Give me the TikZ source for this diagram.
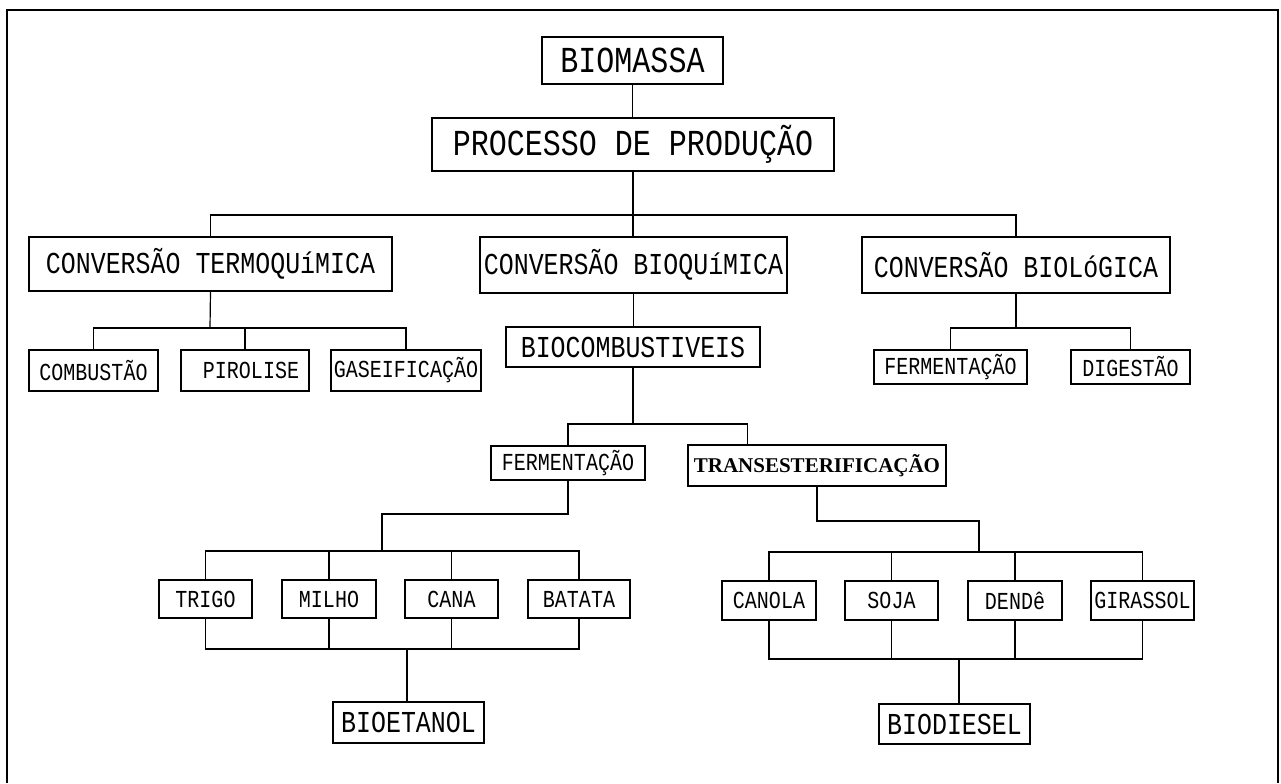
\documentclass[tikz,border=0pt]{standalone}
\usepackage{fontspec}
\setmonofont[FakeStretch=0.82]{Liberation Mono}
\newfontfamily\negrito{Liberation Serif}
\usetikzlibrary{calc}

\tikzset{
	caixa/.style 2 args={draw, inner sep=1pt, minimum width=#1*0.5pt, minimum height=#2*0.5pt,
		font=\ttfamily\fontsize{12.2}{14}\selectfont},
	grande/.style={font=\ttfamily\fontsize{18.3}{21}\selectfont},
	media/.style={font=\ttfamily\fontsize{15.2}{18}\selectfont},
	negrita/.style={font=\negrito\bfseries\fontsize{10.5}{12}\selectfont}
}

\begin{document}
\begin{tikzpicture}[x=0.5pt, y=-0.5pt, line width=0.6pt]
		\useasboundingbox (0,0) rectangle (1281,783);
		\draw[line width=1pt] (7,783) -- (7,10) -- (1278,10) -- (1278,783);
		\node[caixa={181}{47}, grande] (biomassa) at (632.5,60.5) {BIOMASSA};
		\node[caixa={402}{53}, grande] (processo) at (633,144.5) {PROCESSO DE PRODUÇÃO};
		\node[caixa={363}{54}, media] (termo) at (210.5,264) {CONVERSÃO TERMOQUíMICA};
		\node[caixa={307}{56}, media] (bioquim) at (633.5,265) {CONVERSÃO BIOQUíMICA};
		\node[caixa={308}{56}, media] (biolog) at (1016,265) {CONVERSÃO BIOLóGICA};
		\node[caixa={129}{41}] (combust) at (93.5,370.5) {COMBUSTÃO};
		\node[caixa={128}{41}] (pirolise) at (245,370.5) {\ PIROLISE};
		\node[caixa={150}{41}] (gaseif) at (406,370.5) {GASEIFICAÇÃO};
		\node[caixa={254}{40}, media] (biocomb) at (633,347) {BIOCOMBUSTIVEIS};
		\node[caixa={153}{34}] (fermbio) at (950.5,367) {FERMENTAÇÃO};
		\node[caixa={119}{34}] (digest) at (1130.5,367) {DIGESTÃO};
		\node[caixa={154}{34}] (fermen) at (568,463) {FERMENTAÇÃO};
		\node[caixa={258}{41}, negrita] (trans) at (817,465.5) {TRANSESTERIFICAÇÃO};
		\node[caixa={93}{38}] (trigo) at (205.5,599) {TRIGO};
		\node[caixa={94}{38}] (milho) at (329,599) {MILHO};
		\node[caixa={93}{38}] (cana) at (451.5,599) {CANA};
		\node[caixa={102}{38}] (batata) at (579,599) {BATATA};
		\node[caixa={151}{41}, media] (bioetanol) at (408.5,722.5) {BIOETANOL};
		\node[caixa={94}{39}] (canola) at (769,600.5) {CANOLA};
		\node[caixa={93}{39}] (soja) at (891.5,600.5) {SOJA};
		\node[caixa={94}{39}] (dende) at (1015,600.5) {DENDê};
		\node[caixa={103}{39}] (girassol) at (1142.5,600.5) {GIRASSOL};
		\node[caixa={151}{40}, media] (biodiesel) at (954.5,724) {BIODIESEL};
		\coordinate (r1) at (633,215);
		\coordinate (r2) at (210,328);
		\coordinate (r3) at (1016,328);
		\coordinate (r4) at (633,424);
		\coordinate (r5) at (382,514);
		\coordinate (r6) at (382,551);
		\coordinate (r7) at (407,649);
		\coordinate (r8) at (979,521);
		\coordinate (r9) at (979,552);
		\coordinate (r10) at (959,659);
		\draw (biomassa.south) -- (biomassa.south |- processo.north);
		\draw (processo.south) -- (processo.south |- bioquim.north);
		\draw (termo.north) |- (r1) -| (biolog.north);
		\draw (termo.south) -- (r2);
		\draw (combust.north) |- (r2) -| (gaseif.north);
		\draw (pirolise.north) -- (pirolise.north |- r2);
		\draw (biolog.south) -- (r3);
		\draw (fermbio.north) |- (r3) -| (digest.north);
		\draw (bioquim.south) -- (bioquim.south |- biocomb.north);
		\draw (biocomb.south) -- (r4);
		\draw (fermen.north) |- (r4) -| ($(trans.north west)+(60,0)$);
		\draw (fermen.south) |- (r5) -- (r6);
		\draw (trigo.north) |- (r6) -| (batata.north);
		\draw (trigo.south) |- (r7) -| (batata.south);
		\foreach \n in {milho,cana} {
			\draw (\n.north) -- (\n.north |- r6);
			\draw (\n.south) -- (\n.south |- r7);
		}
		\draw (r7) -- (r7 |- bioetanol.north);
		\draw (trans.south) |- (r8) -- (r9);
		\draw (canola.north) |- (r9) -| (girassol.north);
		\draw (canola.south) |- (r10) -| (girassol.south);
		\foreach \n in {soja,dende} {
			\draw (\n.north) -- (\n.north |- r9);
			\draw (\n.south) -- (\n.south |- r10);
		}
		\draw (r10) -- (r10 |- biodiesel.north);
	\end{tikzpicture}
\end{document}
